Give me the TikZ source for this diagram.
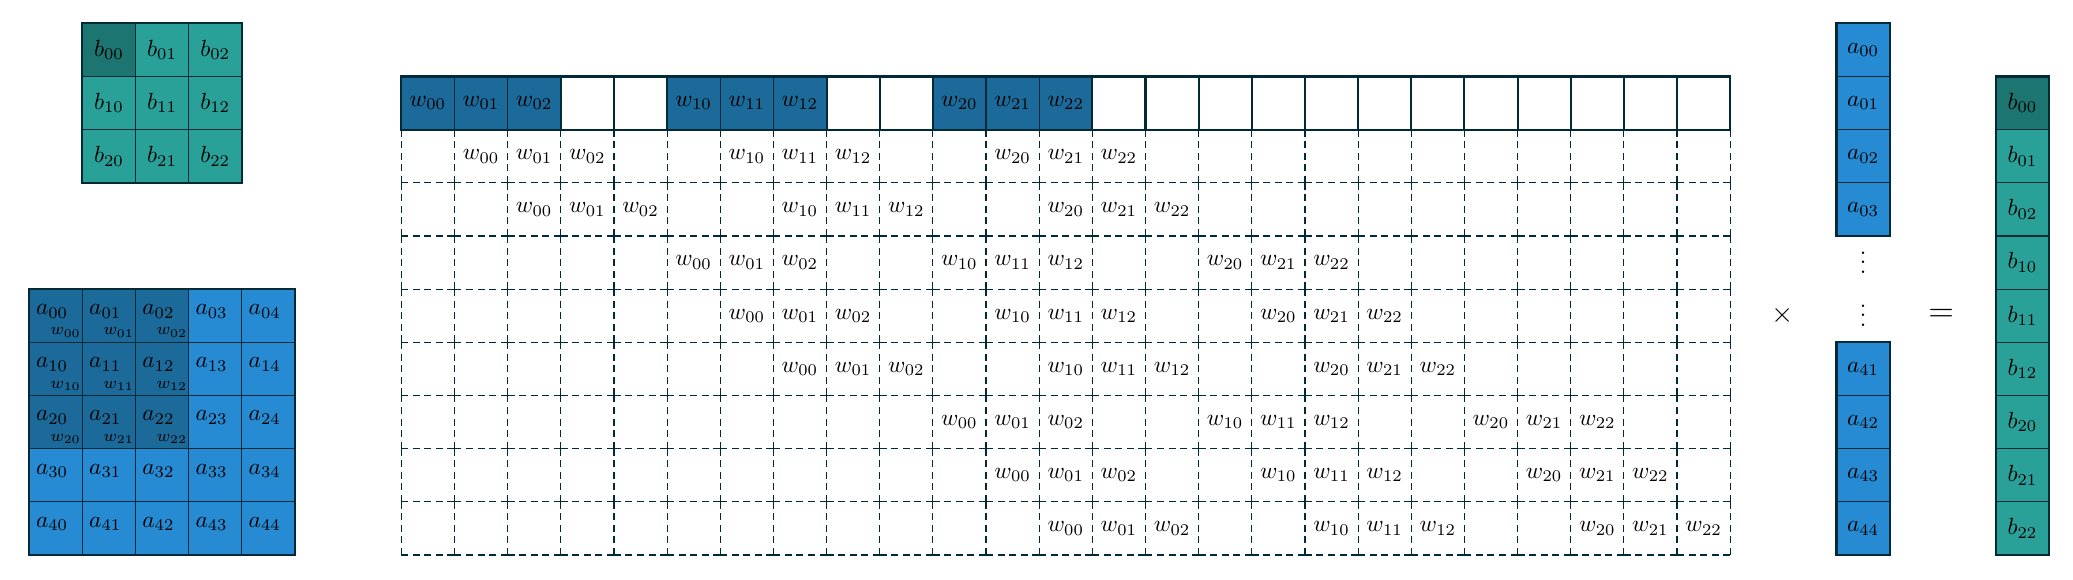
\documentclass[tikz,border=0pt]{standalone}
\definecolor{bd}{HTML}{002B36}
\definecolor{cteal}{HTML}{2AA198}
\definecolor{ctealdk}{HTML}{1D7571}
\definecolor{cblue}{HTML}{268BD2}
\definecolor{cbluedk}{HTML}{1B6A99}
\begin{document}
\begin{tikzpicture}[x=0.8cm,y=0.8cm,
  cell/.style={draw=bd, line width=0.5pt, minimum size=0.8cm, inner sep=0pt, outer sep=0pt},
  emptycell/.style={draw=bd, line width=0.9pt, minimum size=0.8cm, inner sep=0pt, outer sep=0pt, fill=white},
  gcell/.style={minimum size=0.8cm, inner sep=0pt, outer sep=0pt},
  outerbox/.style={draw=bd, line width=0.9pt},
  dashline/.style={draw=bd, line width=0.5pt, dash pattern=on 3pt off 1.94pt},
  tl/.style={anchor=base west, inner sep=0pt},
  br/.style={anchor=base east, inner sep=0pt, font=\scriptsize}]
\useasboundingbox (0,-0.454) rectangle (39.0,10.44);

% ---- output matrix b (3x3)
\foreach \i in {0,1,2}{
  \foreach \j in {0,1,2}{
    \pgfmathtruncatemacro\dk{and(\i==0,\j==0)}
    \ifnum\dk=1 \def\cc{ctealdk}\else\def\cc{cteal}\fi
    \node[cell, fill=\cc] (b-\i-\j) at (1.55+\j+0.5, 9.5-\i) {$b_{\i\j}$};
  }
}
\draw[outerbox] (b-0-0.north west) rectangle (b-2-2.south east);

% ---- input matrix a (5x5)
\foreach \i in {0,...,4}{
  \foreach \j in {0,...,4}{
    \pgfmathtruncatemacro\dk{and(\i<3,\j<3)}
    \pgfmathsetmacro\xx{0.55+\j}
    \pgfmathsetmacro\yy{5-\i}
    \ifnum\dk=1 \def\cc{cbluedk}\else\def\cc{cblue}\fi
    \node[cell, fill=\cc] (a-\i-\j) at (\xx+0.5, \yy-0.5) {};
    \node[tl] (al-\i-\j) at (\xx+0.12, \yy-0.48) {$a_{\i\j}$};
    \ifnum\dk=1
      \node[br] (aw-\i-\j) at (\xx+0.98, \yy-0.86) {$w_{\i\j}$};
    \fi
  }
}
\draw[outerbox] (a-0-0.north west) rectangle (a-4-4.south east);

% ---- unrolled kernel matrix
\foreach \r in {0,...,8}{
  \foreach \c in {0,...,24}{
    \pgfmathtruncatemacro\ki{int(\r/3)}
    \pgfmathtruncatemacro\kj{mod(\r,3)}
    \pgfmathtruncatemacro\d{\c-5*\ki-\kj}
    \pgfmathtruncatemacro\dm{mod(\d+100,5)}
    \pgfmathtruncatemacro\dr{int((\d+100)/5)-20}
    \pgfmathtruncatemacro\isk{and(and(\d>=0,\d<15),\dm<3)}
    \ifnum\r=0
      \ifnum\isk=1
        \node[cell, fill=cbluedk] (m-\r-\c) at (8.05+\c, 8.5) {$w_{\dr\dm}$};
      \fi
    \else
      \ifnum\isk=1
        \node[gcell] (m-\r-\c) at (8.05+\c, 8.5-\r) {$w_{\dr\dm}$};
      \else
        \node[gcell] (m-\r-\c) at (8.05+\c, 8.5-\r) {};
      \fi
    \fi
  }
}
% white cells of the first row
\foreach \c in {3,4,8,9,13,14,...,24}{
  \node[emptycell] (m-0-\c) at (8.05+\c, 8.5) {};
}
\draw[outerbox] (m-0-0.north west) rectangle (m-0-24.south east);
% dashed cell edges
\foreach \r in {1,...,8}{
  \foreach \c in {0,...,24}{
    \draw[dashline] (m-\r-\c.north west) -- (m-\r-\c.south west);
    \draw[dashline] (m-\r-\c.south west) -- (m-\r-\c.south east);
  }
  \draw[dashline] (m-\r-24.north east) -- (m-\r-24.south east);
}

% ---- times sign
\node[font=\large] (times) at (33.53, 4.5) {$\times$};

% ---- flattened input vector
\foreach \lab/\y in {00/9.5,01/8.5,02/7.5,03/6.5,41/3.5,42/2.5,43/1.5,44/0.5}{
  \node[cell, fill=cblue] (v\lab) at (35.05, \y) {$a_{\lab}$};
}
\draw[outerbox] (v00.north west) rectangle (v03.south east);
\draw[outerbox] (v41.north west) rectangle (v44.south east);
\node[inner sep=0pt, yshift=3pt] (vd1) at (35.05, 5.5) {$\vdots$};
\node[inner sep=0pt, yshift=3pt] (vd2) at (35.05, 4.5) {$\vdots$};

% ---- equals sign
\node[font=\Large] (eq) at (36.52, 4.5) {$=$};

% ---- flattened output vector
\foreach \lab/\y in {00/8.5,01/7.5,02/6.5,10/5.5,11/4.5,12/3.5,20/2.5,21/1.5,22/0.5}{
  \ifnum\lab=0 \def\cc{ctealdk}\else\def\cc{cteal}\fi
  \node[cell, fill=\cc] (u\lab) at (38.05, \y) {$b_{\lab}$};
}
\draw[outerbox] (u00.north west) rectangle (u22.south east);
\end{tikzpicture}
\end{document}
